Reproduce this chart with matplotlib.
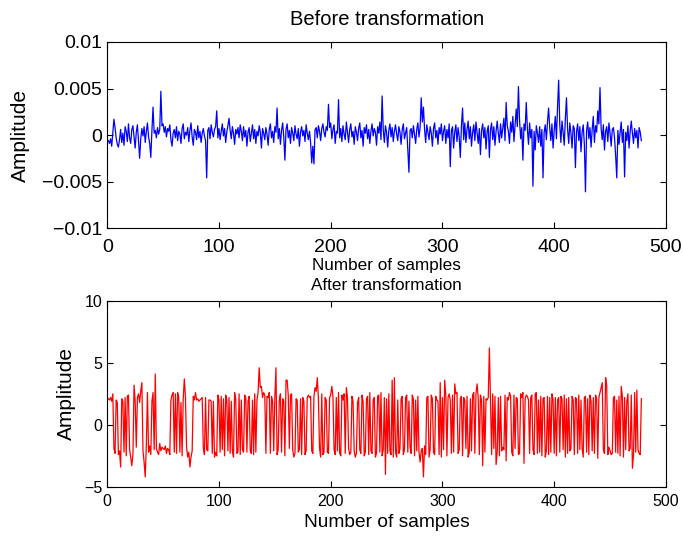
import numpy as np
import matplotlib
matplotlib.use("Agg")
import matplotlib.pyplot as plt

plt.rcParams['font.family'] = ['Liberation Sans', 'DejaVu Sans']

# signal before transformation, in units of 1e-4
before_raw = [
    -6, -9, -4, -12, 3, 17, 8, -3, -10, -13, -5, 6, -8, 2, -11, 9, 4, -7, 12, -3,
    -9, 6, 10, -2, -14, 3, 11, -6, -25, -4, 7, -1, 9, -8, 4, 13, -2, -9, -24, 5,
    30, 2, 5, -3, 8, 1, 6, 47, 10, 12, 3, 9, -2, 7, 4, 11, -5, -12, 2, 6,
    -3, 9, -6, 4, 1, -9, 7, 12, -4, 3, 0, 8, -7, 5, 13, -2, -11, 6, 3, -5,
    10, -3, 4, -8, 2, 7, -1, -6, -46, 5, 8, -4, 11, 3, -2, 6, 9, 26, -3, 7,
    -5, 4, 12, -1, 7, -8, 3, 10, 18, 5, -4, 9, 2, -10, 6, 1, 8, -3, 11, 4,
    -6, 9, -2, 5, -12, 3, 8, -7, 2, 11, -4, 6, -9, 4, -1, 10, 3, -14, 7, 2,
    -5, 8, 1, -11, 6, 12, -3, 4, -8, 9, 3, 29, -4, 7, -10, 5, 13, -2, -27, 6,
    12, -3, 5, -9, 8, 2, -6, 10, 1, -4, 7, -12, 3, 9, -1, 5, -7, 11, 2, -5,
    4, -8, -30, -12, -31, 6, 8, -3, 10, 4, -6, 7, 12, 3, -2, 9, 5, 33, 8, 13,
    -4, 6, 11, -9, 4, 2, 38, -3, 7, -7, 10, 1, -5, 14, 3, -8, 6, 12, -2, 4,
    -10, 9, 3, -6, 7, 13, -3, 5, -12, 8, 2, 11, -4, 6, -9, 4, 12, -1, 7, 3,
    -11, 9, 2, 14, -5, 42, 6, -8, 10, 3, -13, 5, 12, -2, 8, -7, 4, 11, 1, -6,
    9, 3, -10, 6, 12, -4, 2, 8, -15, -40, 5, 7, -3, 10, 1, -9, 6, 13, -2, 8,
    40, 14, 30, 6, -8, 11, 3, -5, 9, 2, -12, 7, 13, -3, 5, -10, 8, 1, 12, -6,
    4, 10, -9, 6, -3, 12, -34, 5, 9, -14, 3, 11, -7, 8, -2, -24, 10, 29, -5, 13,
    -8, 6, 15, -4, 9, -12, 3, 11, -6, 14, 2, -9, 7, -21, 5, 12, -3, 8, -15, 4,
    10, -24, 6, 13, -5, 9, -11, 4, 15, 2, -8, 12, -3, 7, 18, -6, 35, 10, 4, -9,
    14, 3, 20, -7, 11, 28, 9, 52, 16, -4, 8, -27, 12, 5, 35, 7, -10, 13, -3, 6,
    -55, 4, -16, 10, 2, -8, 9, -12, 6, -46, 3, 11, -5, 14, 29, 8, -6, 12, -14, 5,
    20, -4, 30, 59, 11, -8, 15, 3, -11, 18, 40, 6, -9, 13, 2, -14, 10, 7, -35, 4,
    12, -6, 9, -18, 3, 11, -10, -61, 5, 14, -4, 8, -13, 6, 20, -8, 10, 3, 26, 12,
    51, 7, -5, 11, -16, 4, 9, -7, 13, 2, -12, 6, 8, -3, -22, -46, 5, -10, 3, 14,
    -8, 6, -45, 3, -6, 10, -14, 4, 15, 2, -9, 7, -3, 5, -14, 8, 3, -6,
]

# signal after transformation
after = [
    2.1, 2.0, 2.2, 1.9, 2.5, -1.9, -2.3, 2.0, 1.8, -2.4, -2.1, -3.4, 2.1, 1.9, -2.2, 2.2, -2.5, 2.3, 2.4, -2.0,
    -2.6, -3.3, -2.4, 3.2, 1.9, -1.8, 2.2, 2.5, 1.8, 2.7, 3.4, -2.1, -3.0, -4.2, -1.6, 2.6, -2.2, -1.7, -2.4, 1.9,
    2.6, -2.0, 4.1, -1.9, -2.2, -2.4, -1.5, -2.1, -1.8, -1.9, -2.0, -1.7, -2.3, -1.9, -2.0, -2.4, 2.0, 2.4, 2.6, -2.2,
    2.5, -2.3, 2.6, 2.2, -2.2, 1.8, -2.5, 2.1, 3.7, 2.2, -1.8, -2.6, -2.2, -3.4, -2.6, -2.1, 2.3, 2.0, 2.6, 2.0,
    2.1, 1.9, 2.0, 2.1, 2.2, -1.9, -2.4, 2.2, -2.0, -2.1, 2.0, 2.0, 1.9, -2.3, 1.9, -2.6, -2.2, -2.5, 2.4, 2.0,
    -2.2, 2.3, -2.0, 2.1, -2.5, 2.4, 2.0, -2.1, 2.2, -2.3, 1.9, -2.1, -2.6, 2.6, 2.1, -2.3, -2.2, 2.5, -2.4, 2.0,
    -2.0, -2.2, 2.4, 2.2, -2.2, 1.9, 2.3, -2.1, -2.3, 2.0, -2.4, 2.5, -2.2, 2.0, 2.6, 4.6, 3.0, 3.1, 2.2, 2.6,
    2.4, -2.3, 2.3, 2.2, 2.6, -2.3, 2.3, 1.9, -2.1, 2.2, 4.6, -2.4, -2.0, 2.0, 2.5, -2.2, 2.1, 1.9, -2.5, 3.6,
    3.6, 2.4, -1.9, 2.4, 2.5, -2.0, -2.6, -2.3, 2.1, 2.0, -2.2, -2.0, 2.1, -2.4, 2.2, 1.9, -2.4, -2.1, 2.2, 2.4,
    2.2, 2.3, -2.1, -2.3, 2.3, 3.0, 2.7, 3.8, 2.1, -1.9, -2.6, 2.5, -2.4, -2.2, 2.2, 2.0, -2.2, -2.3, 2.2, 2.4,
    3.1, 2.3, -2.0, -2.4, 2.2, -2.1, 2.6, -2.3, -2.5, 2.4, 2.0, 2.5, -2.3, 3.0, 2.2, -1.9, -2.4, -2.2, 2.3, 1.9,
    -2.1, -2.6, -2.3, 1.8, 2.2, -2.0, -2.3, 2.4, 1.9, -2.5, -2.2, 2.1, 2.3, -2.4, 2.6, -2.1, -2.3, 2.0, 2.2, -2.6,
    -2.3, 2.3, 2.4, -2.2, 2.6, -2.5, -2.0, 2.2, -4.0, 2.1, -2.3, 2.5, -2.1, -2.4, 3.6, -2.6, 3.8, -2.2, -2.6, 2.0,
    -2.3, -1.9, 2.1, 2.3, -2.4, -2.0, 2.2, 2.4, -2.2, 1.9, -1.8, -2.3, 2.4, 2.1, -2.5, 2.0, -2.1, 2.3, -2.2, -3.0,
    -2.1, -1.9, -4.2, -1.7, -2.4, 2.2, 2.3, -2.6, -2.0, 2.4, 2.1, -2.2, -2.4, 2.3, 2.0, 1.9, -2.4, 3.4, -2.6, 2.2,
    -2.0, 3.6, 2.4, -2.5, 2.2, 2.5, 2.0, -2.3, 2.4, -2.2, 3.3, 2.5, 2.6, -2.3, -2.0, 2.1, 2.3, -2.5, 2.2, 2.0,
    -1.9, 2.3, -2.6, -2.2, 2.1, -2.1, 2.4, 2.6, -2.3, 2.5, 3.3, 2.2, -2.4, 2.4, 2.0, -3.3, 2.3, -2.2, 2.1, 2.0,
    2.2, 6.2, 2.0, -2.4, 2.5, -1.9, 2.3, -3.2, -2.2, 2.2, -2.5, 2.3, -2.1, -1.8, -2.0, 2.4, -2.9, 2.2, 2.0, 2.6,
    2.3, -2.2, -2.5, 2.4, -1.9, 2.2, 2.1, -2.4, -2.3, 2.5, 2.2, 2.6, -3.1, 2.1, 2.4, 2.3, 2.0, -2.3, 2.2, 2.4,
    -2.0, -2.4, 2.5, 2.6, -2.3, 2.0, -2.2, 2.3, -2.5, 2.1, 2.2, -2.6, -2.1, 2.3, -2.4, 2.2, -2.2, 2.5, 2.0, -2.3,
    2.2, -2.5, 2.0, 2.2, -2.2, 2.3, 2.1, -2.0, 2.4, -2.6, 2.1, -2.3, 2.2, -2.1, -1.9, 2.3, 2.0, -2.4, 2.2, 2.1,
    -2.3, 2.4, -2.0, 2.0, -1.9, -2.6, 2.2, 2.3, -2.2, 2.1, -2.4, 2.4, 1.9, -2.1, 2.2, -2.3, 2.4, 2.1, -2.7, 2.2,
    2.6, 3.0, 3.4, -2.0, -2.3, 3.8, 3.2, -2.4, -1.8, -2.1, -2.4, -2.3, 2.2, 2.3, -2.2, 2.0, -2.3, 2.3, -2.5, 3.1,
    2.3, -2.6, 2.2, -2.0, 1.9, 2.5, -2.1, -1.9, 2.4, -3.5, -2.4, 2.6, -2.2, 2.8, -2.0, -2.3, -2.4, 2.1,
]

before = np.array(before_raw) * 1e-4
n1 = np.arange(1, len(before) + 1)
n2 = np.arange(1, len(after) + 1)

fig = plt.figure(figsize=(6.83, 5.38), dpi=100)
ax1 = fig.add_axes([0.157, 0.576, 0.818, 0.346])
ax2 = fig.add_axes([0.157, 0.095, 0.818, 0.346])

ax1.plot(n1, before, color='#0000ff', lw=0.9)
ax1.set_xlim(0, 500)
ax1.set_ylim(-0.01, 0.01)
ax1.set_yticks([-0.01, -0.005, 0, 0.005, 0.01])
ax1.set_yticklabels(['\u22120.01', '\u22120.005', '0', '0.005', '0.01'])
ax1.set_title('Before transformation', fontsize=14.5, pad=12)
ax1.set_xlabel('Number of samples', fontsize=12.3, labelpad=1)
ax1.set_ylabel('Amplitude', fontsize=15, labelpad=9)
ax1.tick_params(labelsize=14, direction='in', top=True, right=True, length=4)
ax1.tick_params(axis='x', pad=8)

ax2.plot(n2, after, color='#ff0000', lw=0.9)
ax2.set_xlim(0, 500)
ax2.set_ylim(-5, 10)
ax2.set_yticks([-5, 0, 5, 10])
ax2.set_yticklabels(['\u22125', '0', '5', '10'])
ax2.set_title('After transformation', fontsize=12.3, pad=8)
ax2.set_xlabel('Number of samples', fontsize=13.8, labelpad=4)
ax2.set_ylabel('Amplitude', fontsize=15, labelpad=6)
ax2.tick_params(labelsize=11.5, direction='in', top=True, right=True, length=4)
ax2.tick_params(axis='x', pad=5)

for ax in (ax1, ax2):
    ax.set_xticks([0, 100, 200, 300, 400, 500])
    for s in ax.spines.values():
        s.set_linewidth(0.8)

fig.savefig('out.png', dpi=100)
